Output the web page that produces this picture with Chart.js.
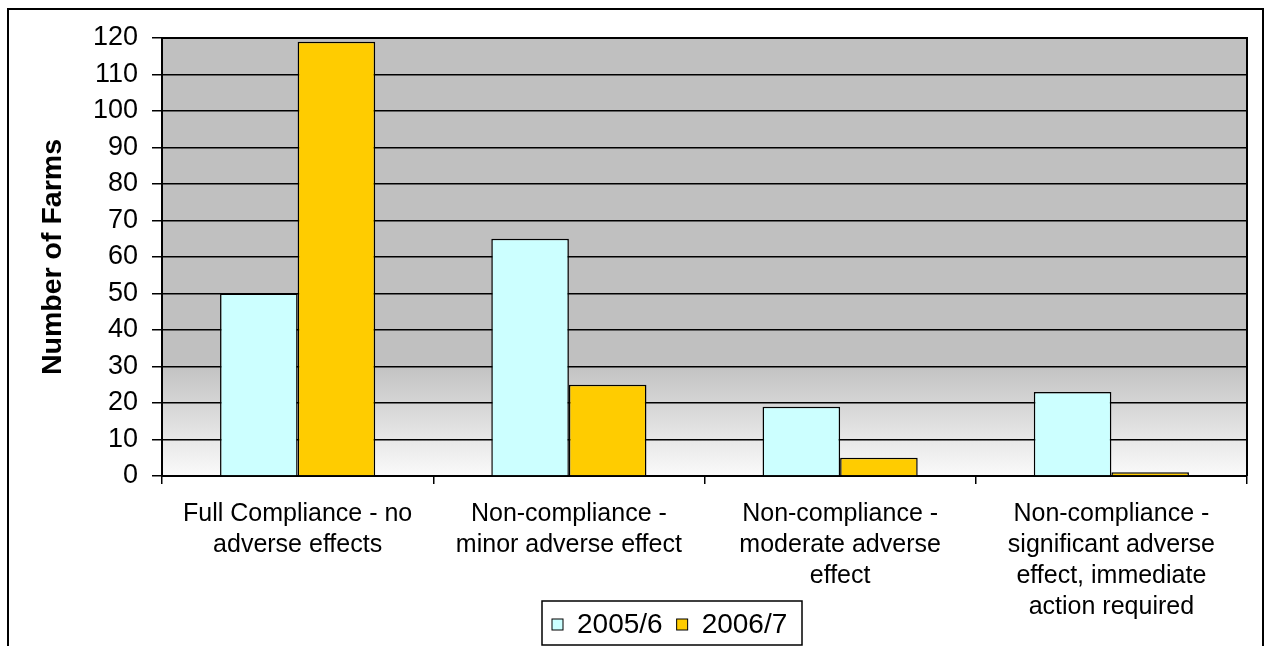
<!DOCTYPE html>
<html>
<head>
<meta charset="utf-8">
<script src="https://cdn.jsdelivr.net/npm/chart.js@4.4.1/dist/chart.umd.min.js"></script>
<style>
  html, body { margin: 0; padding: 0; background: #fff; }
  #wrap { width: 1267px; height: 646px; position: relative; }
</style>
</head>
<body>
<div id="wrap"><canvas id="farmChart"></canvas></div>
<script>
// Categories (multi-line labels as in the original)
const categories = [
  ['Full Compliance - no', 'adverse effects'],
  ['Non-compliance -', 'minor adverse effect'],
  ['Non-compliance -', 'moderate adverse', 'effect'],
  ['Non-compliance -', 'significant adverse', 'effect, immediate', 'action required']
];
const seriesNames = ['2005/6', '2006/7'];
const farms2005 = [50, 65, 19, 23];
const farms2006 = [119, 25, 5, 1];
const yMin = 0;
const yMax = 120;
const yStep = 10;

const FONT = "'Liberation Sans', Arial, sans-serif";

// Gray plot background fading to white near the bottom
const plotBackground = {
  id: 'plotBackground',
  beforeDraw(chart) {
    const { ctx, chartArea: a } = chart;
    const g = ctx.createLinearGradient(0, a.top, 0, a.bottom);
    g.addColorStop(0, '#c0c0c0');
    g.addColorStop(0.74, '#c0c0c0');
    g.addColorStop(1, '#fafafa');
    ctx.save();
    ctx.fillStyle = g;
    ctx.fillRect(a.left, a.top, a.right - a.left, a.bottom - a.top);
    ctx.restore();
  }
};

// Outer frame, plot border and the boxed legend
const frameAndLegend = {
  id: 'frameAndLegend',
  afterDraw(chart) {
    const { ctx, chartArea: a } = chart;
    ctx.save();
    ctx.strokeStyle = '#000';
    ctx.lineWidth = 2;
    ctx.strokeRect(8, 9, 1255, 700);

    ctx.beginPath();
    ctx.moveTo(a.left, a.top);
    ctx.lineTo(a.right, a.top);
    ctx.lineTo(a.right, a.bottom);
    ctx.stroke();

    // legend
    const bx = 542, by = 601, bw = 260, bh = 44;
    ctx.fillStyle = '#fff';
    ctx.fillRect(bx, by, bw, bh);
    ctx.lineWidth = 1.5;
    ctx.strokeRect(bx, by, bw, bh);
    ctx.font = '28px ' + FONT;
    ctx.textBaseline = 'middle';
    let x = bx + 10;
    const cy = by + 24;
    chart.data.datasets.forEach(ds => {
      ctx.fillStyle = ds.backgroundColor;
      ctx.fillRect(x, cy - 6, 11, 11);
      ctx.lineWidth = 1;
      ctx.strokeStyle = '#000';
      ctx.strokeRect(x, cy - 6, 11, 11);
      ctx.fillStyle = '#000';
      ctx.fillText(ds.label, x + 25, cy);
      x += 25 + ctx.measureText(ds.label).width + 14;
    });
    ctx.restore();
  }
};

const ctx = document.getElementById('farmChart').getContext('2d');
new Chart(ctx, {
  type: 'bar',
  data: {
    labels: categories,
    datasets: [
      {
        label: seriesNames[0],
        data: farms2005,
        backgroundColor: '#ccffff',
        borderColor: '#000',
        borderWidth: 1.5,
        barPercentage: 1,
        categoryPercentage: 0.572
      },
      {
        label: seriesNames[1],
        data: farms2006,
        backgroundColor: '#ffcc00',
        borderColor: '#000',
        borderWidth: 1.5,
        barPercentage: 1,
        categoryPercentage: 0.572
      }
    ]
  },
  options: {
    responsive: true,
    maintainAspectRatio: false,
    animation: false,
    layout: { padding: { left: 10, top: 38, right: 20, bottom: 0 } },
    plugins: {
      legend: { display: false },
      tooltip: { enabled: false }
    },
    scales: {
      x: {
        afterFit(s) { s.height = 170; },
        grid: {
          drawOnChartArea: false,
          drawTicks: true,
          tickLength: 8,
          color: '#000',
          lineWidth: 1.5,
          offset: true
        },
        border: { color: '#000', width: 2 },
        ticks: {
          color: '#000',
          font: { family: FONT, size: 25, lineHeight: 1.24 },
          padding: 15,
          maxRotation: 0,
          autoSkip: false
        }
      },
      y: {
        min: yMin,
        max: yMax,
        afterFit(s) { s.width = 152; },
        grid: {
          color: '#000',
          lineWidth: 1.5,
          drawTicks: true,
          tickLength: 10
        },
        border: { color: '#000', width: 2 },
        ticks: {
          stepSize: yStep,
          color: '#000',
          font: { family: FONT, size: 27 },
          padding: 14
        },
        title: {
          display: true,
          text: 'Number of Farms',
          color: '#000',
          font: { family: FONT, size: 28.5, weight: 'bold' },
          padding: { top: 26, bottom: 0 }
        }
      }
    }
  },
  plugins: [plotBackground, frameAndLegend]
});
</script>
</body>
</html>
